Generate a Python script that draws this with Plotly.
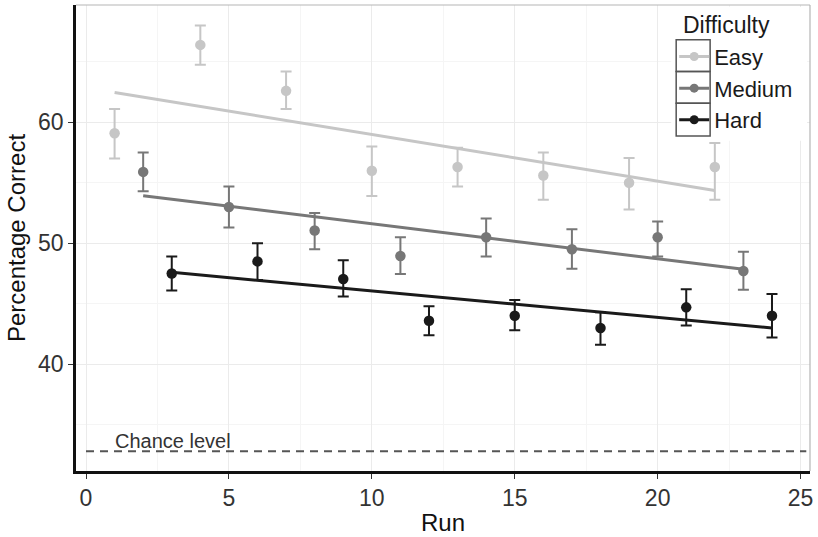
import numpy as np
import plotly.graph_objects as go

# ---------------- data ----------------
easy_run = [1, 4, 7, 10, 13, 16, 19, 22]
easy_pct = [59.1, 66.4, 62.6, 56.0, 56.3, 55.6, 55.0, 56.3]
easy_hi = [61.1, 68.0, 64.2, 58.0, 57.9, 57.5, 57.05, 58.3]
easy_lo = [57.0, 64.75, 61.1, 53.9, 54.7, 53.6, 52.8, 53.6]

medium_run = [2, 5, 8, 11, 14, 17, 20, 23]
medium_pct = [55.9, 53.0, 51.05, 48.95, 50.5, 49.5, 50.5, 47.7]
medium_hi = [57.5, 54.7, 52.5, 50.5, 52.05, 51.15, 51.8, 49.3]
medium_lo = [54.3, 51.3, 49.5, 47.45, 48.9, 47.9, 48.9, 46.15]

hard_run = [3, 6, 9, 12, 15, 18, 21, 24]
hard_pct = [47.5, 48.5, 47.05, 43.6, 44.0, 43.0, 44.7, 44.0]
hard_hi = [48.9, 50.0, 48.6, 44.8, 45.3, 44.3, 46.2, 45.8]
hard_lo = [46.1, 46.97, 45.6, 42.4, 42.8, 41.6, 43.2, 42.2]

levels = ["Easy", "Medium", "Hard"]
colors = ["#c6c6c6", "#777777", "#1a1a1a"]
chance_level = 32.8
x_ticks = [0, 5, 10, 15, 20, 25]
y_ticks = [40, 50, 60]

series = [
    (easy_run, easy_pct, easy_hi, easy_lo),
    (medium_run, medium_pct, medium_hi, medium_lo),
    (hard_run, hard_pct, hard_hi, hard_lo),
]

FONT = "Liberation Sans, Arial, Helvetica, sans-serif"

fig = go.Figure()

for name, color, (xr, yp, hi, lo) in zip(levels, colors, series):
    xr = np.array(xr, float)
    yp = np.array(yp, float)
    plus = np.array(hi) - yp
    minus = yp - np.array(lo)
    # linear fit (lm)
    slope, intercept = np.polyfit(xr, yp, 1)
    xf = np.array([xr.min(), xr.max()])
    fig.add_trace(go.Scatter(
        x=xf, y=slope * xf + intercept, mode="lines",
        line=dict(color=color, width=3), showlegend=False, hoverinfo="skip"))
    fig.add_trace(go.Scatter(
        x=xr, y=yp, mode="markers", name=name,
        marker=dict(color=color, size=10.5),
        error_y=dict(type="data", symmetric=False, array=plus, arrayminus=minus,
                     color=color, thickness=2, width=5.5),
        showlegend=False))
    # legend entry (line + marker)
    fig.add_trace(go.Scatter(
        x=[None], y=[None], mode="lines+markers", name=name,
        line=dict(color=color, width=3), marker=dict(color=color, size=9),
        showlegend=True))

# chance level
fig.add_trace(go.Scatter(
    x=[0, 25.2], y=[chance_level, chance_level], mode="lines",
    line=dict(color="#555555", width=2, dash="8px,6px"),
    showlegend=False, hoverinfo="skip"))
fig.add_annotation(x=3.05, y=chance_level, yshift=-3, text="Chance level", showarrow=False,
                   xanchor="center", yanchor="bottom",
                   font=dict(size=20, color="#333333", family=FONT))

# plot-area geometry helpers (pixels -> paper)
L, R, T, B = 76, 811, 5, 475
def px(x):
    return (x - L) / (R - L)
def py(y):
    return (B - y) / (B - T)

# legend title
fig.add_annotation(xref="paper", yref="paper", x=px(682), y=py(25), text="Difficulty",
                   showarrow=False, xanchor="left", yanchor="middle",
                   font=dict(size=23, color="#1a1a1a", family=FONT))

shapes = []
# top & right panel border
shapes.append(dict(type="line", xref="paper", yref="paper", x0=0, x1=1, y0=1, y1=1,
                   line=dict(color="#b5b5b5", width=1.2), layer="above"))
shapes.append(dict(type="line", xref="paper", yref="paper", x0=1, x1=1, y0=0, y1=1,
                   line=dict(color="#b5b5b5", width=1.2), layer="above"))
# legend background
shapes.append(dict(type="rect", xref="paper", yref="paper",
                   x0=px(672), x1=px(808), y0=py(142), y1=py(7),
                   fillcolor="white", line=dict(width=0), layer="above"))
# legend key boxes
tops = [40, 72, 104, 137]
for i in range(3):
    shapes.append(dict(type="rect", xref="paper", yref="paper",
                       x0=px(677), x1=px(711), y0=py(tops[i + 1]), y1=py(tops[i]),
                       fillcolor="rgba(0,0,0,0)", line=dict(color="#555555", width=1.5),
                       layer="above"))

fig.update_layout(
    width=818, height=537,
    margin=dict(l=L, r=818 - R, t=T, b=537 - B),
    paper_bgcolor="white", plot_bgcolor="white",
    font=dict(family=FONT, color="#1a1a1a"),
    shapes=shapes,
    legend=dict(
        font=dict(size=22, color="#1a1a1a"),
        x=px(675), y=py(36), xanchor="left", yanchor="top",
        bgcolor="rgba(0,0,0,0)", borderwidth=0,
        itemwidth=30, tracegroupgap=0,
    ),
    xaxis=dict(
        range=[-0.35, 25.33], tickvals=x_ticks, ticktext=[str(v) for v in x_ticks],
        showgrid=True, gridcolor="#ebebeb", gridwidth=1,
        minor=dict(dtick=2.5, tick0=0, showgrid=True, gridcolor="#f5f5f5", gridwidth=1),
        zeroline=False, showline=True, linecolor="#111111", linewidth=2.5,
        ticks="outside", ticklen=5, tickcolor="#333333", tickwidth=1,
        tickfont=dict(size=23, color="#333333"),
        title=dict(text="Run", font=dict(size=24, color="#111111"), standoff=4),
    ),
    yaxis=dict(
        range=[31.17, 69.7], tickvals=y_ticks, ticktext=[str(v) for v in y_ticks],
        showgrid=True, gridcolor="#ebebeb", gridwidth=1,
        minor=dict(dtick=5, tick0=35, showgrid=True, gridcolor="#f5f5f5", gridwidth=1),
        zeroline=False, showline=True, linecolor="#111111", linewidth=2.5,
        ticks="outside", ticklen=5, tickcolor="#333333", tickwidth=1,
        tickfont=dict(size=23, color="#333333"),
        title=dict(text="Percentage Correct", font=dict(size=24, color="#111111"), standoff=6),
    ),
)

fig.write_html("out.html")
